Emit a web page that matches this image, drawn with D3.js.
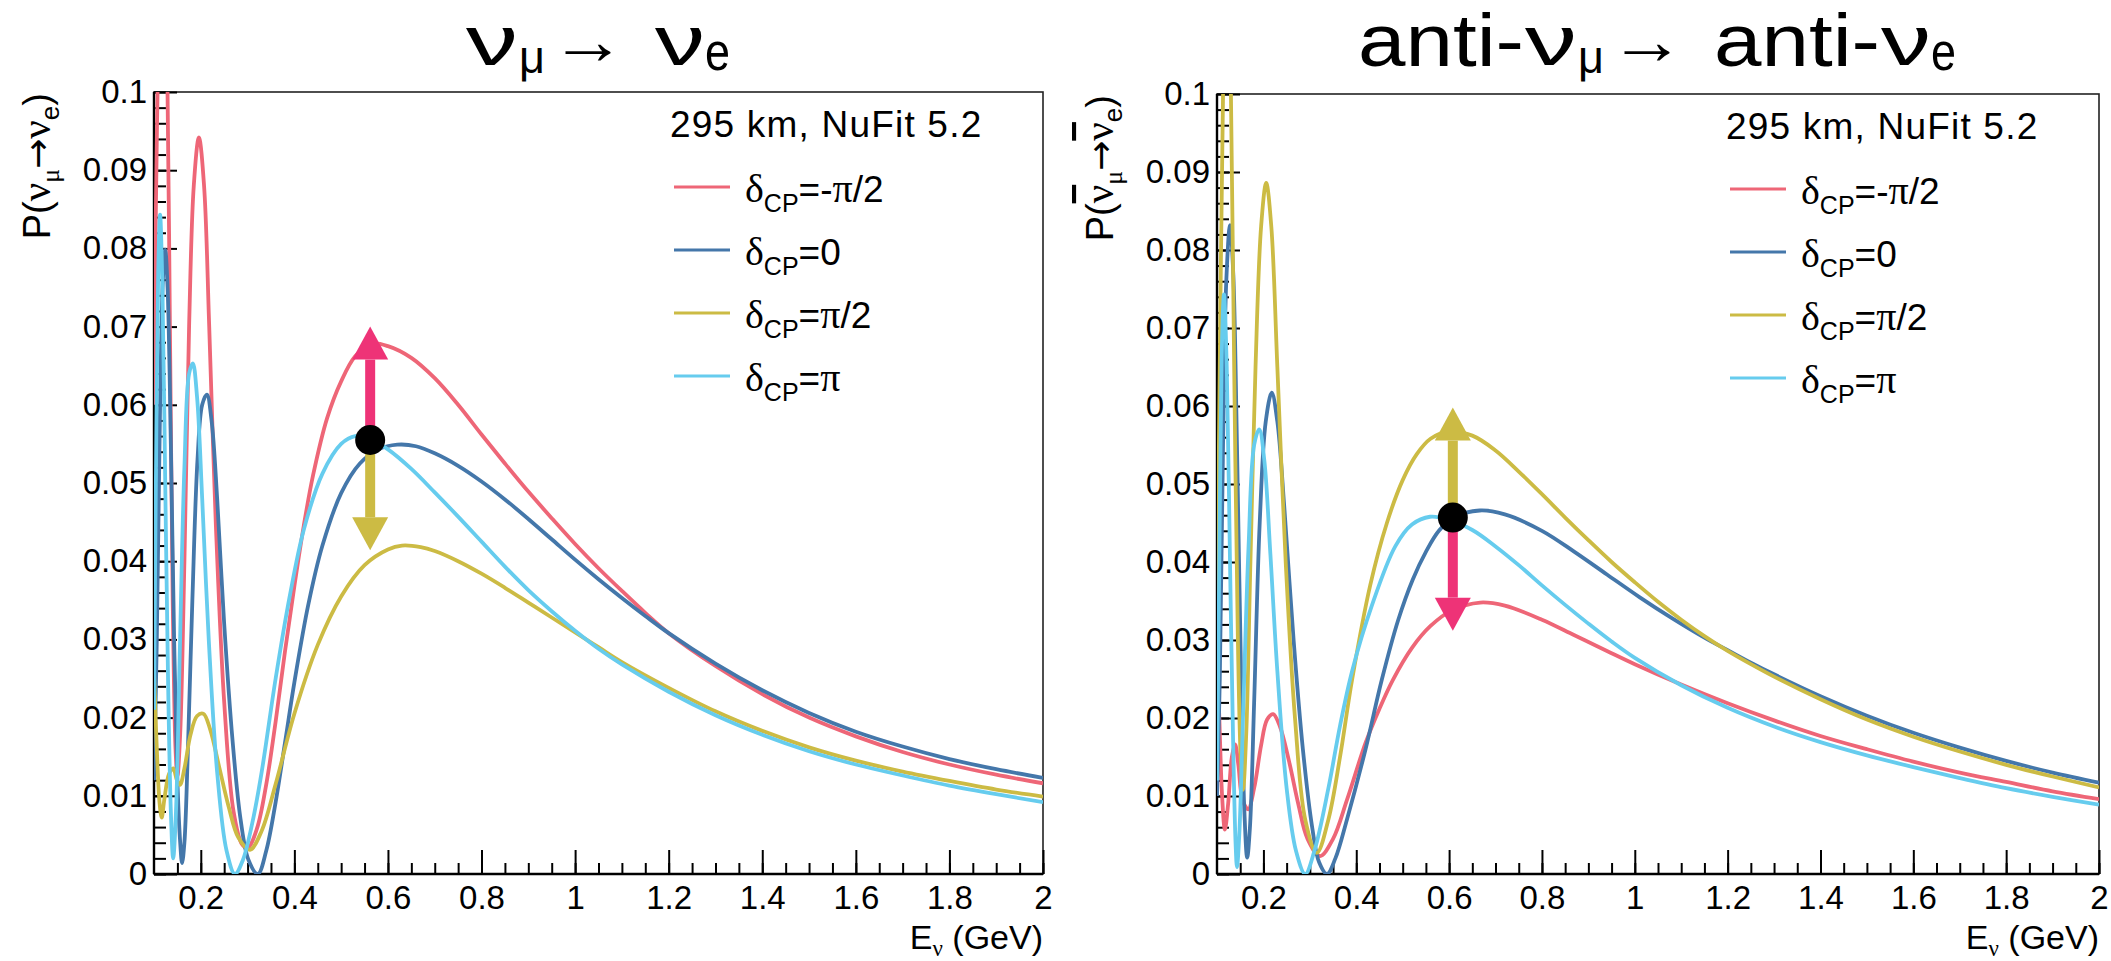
<!DOCTYPE html>
<html>
<head>
<meta charset="utf-8">
<script src="https://cdn.jsdelivr.net/npm/d3@7"></script>
<style>
  body { margin: 0; background: #fff; }
  svg { display: block; }
  text { font-family: "Liberation Sans", Arial, Helvetica, sans-serif; fill: #000; }
</style>
</head>
<body>
<script>
// ---- data (energy in GeV, probability) ----
var energyMajor = [0.2, 0.4, 0.6, 0.8, 1, 1.2, 1.4, 1.6, 1.8, 2];
var energyMinor = d3.range(0.15, 2.001, 0.05);
var probMajor = [0, 0.01, 0.02, 0.03, 0.04, 0.05, 0.06, 0.07, 0.08, 0.09, 0.1];
var probMinor = d3.range(0, 0.1001, 0.002);

var deltaLabels = ["=-π/2", "=0", "=π/2", "=π"];
var deltaColors = ["#EE6677", "#4477AA", "#CCBB44", "#66CCEE"];

// neutrino, 295 km
var nuMinusHalfPi = [[0.100,0.060],[0.104,0.085],[0.109,0.105],[0.118,0.130],[0.128,0.105],[0.134,0.070],[0.140,0.035],[0.146,0.016],[0.150,0.0125],[0.156,0.018],[0.165,0.040],[0.175,0.070],[0.185,0.088],[0.196,0.0942],[0.207,0.088],[0.218,0.070],[0.232,0.045],[0.250,0.022],[0.270,0.008],[0.288,0.0038],[0.300,0.0033],[0.320,0.0058],[0.340,0.0115],[0.360,0.0195],[0.380,0.0285],[0.400,0.0368],[0.420,0.0445],[0.440,0.0510],[0.470,0.0583],[0.500,0.0630],[0.530,0.0662],[0.565,0.0678],[0.600,0.0675],[0.650,0.0660],[0.700,0.0634],[0.750,0.0600],[0.800,0.0562],[0.850,0.0525],[0.900,0.0489],[0.950,0.0455],[1.000,0.0422],[1.050,0.0391],[1.100,0.0362],[1.150,0.0334],[1.200,0.0308],[1.300,0.0266],[1.400,0.0230],[1.500,0.0200],[1.600,0.0176],[1.700,0.0156],[1.800,0.0140],[1.900,0.0127],[2.000,0.0116]];
var nuZero = [[0.100,0.012],[0.106,0.030],[0.113,0.060],[0.119,0.076],[0.124,0.0798],[0.129,0.075],[0.136,0.055],[0.143,0.030],[0.150,0.012],[0.156,0.004],[0.160,0.0014],[0.165,0.004],[0.172,0.015],[0.182,0.035],[0.193,0.053],[0.203,0.060],[0.213,0.0613],[0.223,0.058],[0.235,0.048],[0.250,0.032],[0.268,0.017],[0.285,0.007],[0.302,0.0018],[0.322,0.0],[0.340,0.003],[0.360,0.0092],[0.380,0.0168],[0.400,0.0245],[0.430,0.0345],[0.460,0.0420],[0.500,0.0487],[0.540,0.0525],[0.580,0.0543],[0.620,0.0549],[0.660,0.0547],[0.700,0.0538],[0.750,0.0522],[0.800,0.0502],[0.850,0.0479],[0.900,0.0454],[0.950,0.0428],[1.000,0.0402],[1.050,0.0377],[1.100,0.0353],[1.150,0.0330],[1.200,0.0308],[1.300,0.0269],[1.400,0.0235],[1.500,0.0206],[1.600,0.0182],[1.700,0.0163],[1.800,0.0147],[1.900,0.0134],[2.000,0.0123]];
var nuHalfPi = [[0.100,0.026],[0.106,0.016],[0.112,0.009],[0.1165,0.0072],[0.122,0.0095],[0.132,0.0128],[0.141,0.0135],[0.149,0.0120],[0.1556,0.0114],[0.165,0.0135],[0.178,0.0178],[0.192,0.0202],[0.2054,0.0205],[0.220,0.0185],[0.240,0.0135],[0.260,0.0085],[0.280,0.0047],[0.305,0.0031],[0.330,0.0055],[0.360,0.0115],[0.400,0.0205],[0.450,0.0293],[0.500,0.0355],[0.550,0.0395],[0.600,0.0415],[0.630,0.0420],[0.670,0.0418],[0.700,0.0413],[0.750,0.0400],[0.800,0.0384],[0.850,0.0366],[0.900,0.0347],[0.950,0.0328],[1.000,0.0309],[1.050,0.0290],[1.100,0.0271],[1.200,0.0238],[1.300,0.0208],[1.400,0.0183],[1.500,0.0162],[1.600,0.0145],[1.700,0.0131],[1.800,0.0119],[1.900,0.0108],[2.000,0.0099]];
var nuPi = [[0.100,0.021],[0.104,0.050],[0.109,0.077],[0.113,0.0843],[0.118,0.075],[0.124,0.050],[0.130,0.025],[0.136,0.008],[0.141,0.002],[0.147,0.008],[0.155,0.028],[0.165,0.052],[0.175,0.064],[0.183,0.0653],[0.192,0.061],[0.203,0.048],[0.217,0.030],[0.235,0.013],[0.255,0.003],[0.273,0.0],[0.290,0.0018],[0.310,0.0065],[0.330,0.0130],[0.360,0.0250],[0.390,0.0355],[0.420,0.0440],[0.460,0.0512],[0.500,0.0550],[0.530,0.0560],[0.560,0.0557],[0.600,0.0543],[0.650,0.0518],[0.700,0.0488],[0.750,0.0457],[0.800,0.0425],[0.850,0.0393],[0.900,0.0363],[0.950,0.0336],[1.000,0.0311],[1.050,0.0288],[1.100,0.0268],[1.200,0.0233],[1.300,0.0203],[1.400,0.0178],[1.500,0.0157],[1.600,0.0140],[1.700,0.0126],[1.800,0.0113],[1.900,0.0102],[2.000,0.0092]];

// anti-neutrino, 295 km
var antiMinusHalfPi = [[0.100,0.029],[0.105,0.020],[0.111,0.010],[0.117,0.0057],[0.124,0.009],[0.132,0.015],[0.139,0.0166],[0.146,0.014],[0.155,0.0095],[0.167,0.0083],[0.180,0.011],[0.195,0.0165],[0.208,0.0198],[0.221,0.0205],[0.235,0.0190],[0.255,0.0145],[0.275,0.0090],[0.295,0.0045],[0.322,0.0023],[0.350,0.0045],[0.380,0.0095],[0.420,0.0168],[0.450,0.0212],[0.479,0.0249],[0.520,0.0290],[0.560,0.0318],[0.606,0.0338],[0.667,0.0348],[0.720,0.0344],[0.800,0.0326],[0.870,0.0306],[0.940,0.0286],[1.000,0.0269],[1.100,0.0243],[1.200,0.0219],[1.300,0.0197],[1.400,0.0177],[1.500,0.0160],[1.600,0.0144],[1.700,0.0130],[1.800,0.0118],[1.900,0.0106],[2.000,0.0096]];
var antiZero = [[0.100,0.010],[0.106,0.025],[0.113,0.055],[0.120,0.076],[0.128,0.0832],[0.135,0.077],[0.143,0.055],[0.152,0.025],[0.159,0.008],[0.165,0.0021],[0.171,0.006],[0.180,0.022],[0.192,0.045],[0.205,0.058],[0.218,0.0617],[0.230,0.058],[0.245,0.047],[0.265,0.030],[0.285,0.016],[0.305,0.006],[0.320,0.0015],[0.337,0.0],[0.355,0.002],[0.380,0.007],[0.420,0.016],[0.455,0.0249],[0.490,0.0325],[0.522,0.0378],[0.550,0.0413],[0.578,0.0440],[0.610,0.0457],[0.666,0.0466],[0.720,0.0461],[0.800,0.0440],[0.870,0.0413],[0.940,0.0384],[1.010,0.0355],[1.080,0.0328],[1.150,0.0303],[1.200,0.0287],[1.250,0.0271],[1.300,0.0256],[1.400,0.0228],[1.500,0.0203],[1.600,0.0181],[1.700,0.0162],[1.800,0.0145],[1.900,0.0130],[2.000,0.0117]];
var antiHalfPi = [[0.100,0.030],[0.105,0.060],[0.113,0.100],[0.121,0.125],[0.130,0.100],[0.137,0.065],[0.145,0.030],[0.151,0.015],[0.156,0.0108],[0.163,0.018],[0.172,0.040],[0.183,0.065],[0.195,0.083],[0.206,0.0886],[0.217,0.083],[0.230,0.065],[0.248,0.040],[0.268,0.020],[0.290,0.007],[0.315,0.0027],[0.340,0.007],[0.365,0.015],[0.391,0.0249],[0.430,0.0370],[0.466,0.0450],[0.500,0.0505],[0.530,0.0538],[0.560,0.0558],[0.600,0.0567],[0.650,0.0562],[0.700,0.0543],[0.750,0.0516],[0.800,0.0487],[0.850,0.0457],[0.900,0.0428],[0.950,0.0400],[1.000,0.0374],[1.050,0.0349],[1.100,0.0326],[1.150,0.0305],[1.200,0.0286],[1.250,0.0269],[1.300,0.0253],[1.400,0.0224],[1.500,0.0198],[1.600,0.0176],[1.700,0.0157],[1.800,0.0140],[1.900,0.0125],[2.000,0.0111]];
var antiPi = [[0.100,0.012],[0.105,0.040],[0.110,0.066],[0.115,0.0743],[0.121,0.065],[0.128,0.040],[0.135,0.016],[0.140,0.004],[0.143,0.0009],[0.148,0.005],[0.157,0.022],[0.168,0.042],[0.180,0.055],[0.191,0.0570],[0.202,0.053],[0.215,0.041],[0.230,0.026],[0.250,0.011],[0.270,0.003],[0.290,0.0],[0.310,0.003],[0.340,0.011],[0.365,0.019],[0.391,0.0260],[0.433,0.0343],[0.484,0.0420],[0.520,0.0448],[0.559,0.0458],[0.600,0.0454],[0.650,0.0441],[0.700,0.0420],[0.750,0.0396],[0.800,0.0370],[0.850,0.0345],[0.900,0.0321],[0.950,0.0298],[1.000,0.0277],[1.100,0.0242],[1.200,0.0213],[1.300,0.0189],[1.400,0.0169],[1.500,0.0152],[1.600,0.0137],[1.700,0.0123],[1.800,0.0110],[1.900,0.0099],[2.000,0.0089]];

// central point and arrows: [energy, dot, up-arrow tip, down-arrow tip]
var nuMarker = [0.562, 0.0555, 0.0700, 0.0414];
var antiMarker = [0.608, 0.0457, 0.0598, 0.0312];

// ---- layout ----
var svg = d3.select("body").append("svg").attr("width", 2111).attr("height", 961);

var panels = [
  { x0: 154, x1: 1043, y0: 92, y1: 874, title: "nu", titleX: 466,
    curves: [nuMinusHalfPi, nuZero, nuHalfPi, nuPi], marker: nuMarker,
    upColor: "#EE3377", downColor: "#CCBB44" },
  { x0: 1217, x1: 2099, y0: 94, y1: 874, title: "anti", titleX: 1358,
    curves: [antiMinusHalfPi, antiZero, antiHalfPi, antiPi], marker: antiMarker,
    upColor: "#CCBB44", downColor: "#EE3377" }
];

var fmt = function(d) { return d === 0 ? "0" : String(+d.toFixed(2)); };
var serif = "Liberation Serif, Times New Roman, serif";

panels.forEach(function(p, pi) {
  var x = d3.scaleLinear().domain([0.1, 2]).range([p.x0, p.x1]);
  var y = d3.scaleLinear().domain([0, 0.1]).range([p.y1, p.y0]);
  var g = svg.append("g");

  g.append("clipPath").attr("id", "clip" + pi)
    .append("rect").attr("x", p.x0).attr("y", p.y0)
    .attr("width", p.x1 - p.x0).attr("height", p.y1 - p.y0);

  // frame
  g.append("rect").attr("x", p.x0).attr("y", p.y0)
    .attr("width", p.x1 - p.x0).attr("height", p.y1 - p.y0)
    .attr("fill", "none").attr("stroke", "#222").attr("stroke-width", 1.6);

  // x axis
  var xMinor = g.append("g").attr("transform", "translate(0," + p.y1 + ")")
    .call(d3.axisBottom(x).tickValues(energyMinor).tickSize(-11).tickFormat(""));
  var xMajor = g.append("g").attr("transform", "translate(0," + p.y1 + ")")
    .call(d3.axisBottom(x).tickValues(energyMajor).tickSize(-24).tickPadding(12).tickFormat(fmt));
  // y axis
  var yMinor = g.append("g").attr("transform", "translate(" + p.x0 + ",0)")
    .call(d3.axisLeft(y).tickValues(probMinor).tickSize(-12).tickFormat(""));
  var yMajor = g.append("g").attr("transform", "translate(" + p.x0 + ",0)")
    .call(d3.axisLeft(y).tickValues(probMajor).tickSize(-23).tickPadding(7).tickFormat(fmt));

  [xMinor, xMajor, yMinor, yMajor].forEach(function(a) {
    a.select(".domain").remove();
    a.selectAll(".tick line").attr("stroke", "#000").attr("stroke-width", 2);
    a.selectAll("text").attr("font-size", 33).attr("font-family", "Liberation Sans, Arial, sans-serif").attr("fill", "#000");
  });
  g.append("line").attr("x1", p.x0).attr("x2", p.x1).attr("y1", p.y1).attr("y2", p.y1)
    .attr("stroke", "#000").attr("stroke-width", 2.4);
  g.append("line").attr("x1", p.x0).attr("x2", p.x0).attr("y1", p.y0).attr("y2", p.y1)
    .attr("stroke", "#000").attr("stroke-width", 2.4);

  // curves
  var line = d3.line().x(function(d) { return x(d[0]); }).y(function(d) { return y(d[1]); })
    .curve(d3.curveCatmullRom.alpha(0.5));
  g.append("g").attr("clip-path", "url(#clip" + pi + ")")
    .selectAll("path").data(p.curves).enter().append("path")
    .attr("d", line).attr("fill", "none")
    .attr("stroke", function(d, i) { return deltaColors[i]; })
    .attr("stroke-width", 3.8).attr("stroke-linejoin", "round");

  // arrows and central dot
  var m = p.marker, ax = x(m[0]), ay = y(m[1]);
  function arrow(tip, color) {
    var ty = y(tip), dir = ty < ay ? 1 : -1, base = ty + dir * 33;
    g.append("line").attr("x1", ax).attr("x2", ax).attr("y1", ay).attr("y2", base)
      .attr("stroke", color).attr("stroke-width", 10);
    g.append("path").attr("fill", color)
      .attr("d", "M" + ax + "," + ty + "L" + (ax - 18) + "," + base + "L" + (ax + 18) + "," + base + "Z");
  }
  arrow(m[2], p.upColor);
  arrow(m[3], p.downColor);
  g.append("circle").attr("cx", ax).attr("cy", ay).attr("r", 15).attr("fill", "#000");

  // legend
  var lx = p.x1 - 373, ly = p.y0;
  g.append("text").attr("x", lx).attr("y", ly + 45).attr("font-size", 37)
    .attr("letter-spacing", 1.2).text("295 km, NuFit 5.2");
  deltaLabels.forEach(function(lab, i) {
    var yy = ly + 95 + i * 63;
    g.append("line").attr("x1", lx + 4).attr("x2", lx + 60).attr("y1", yy).attr("y2", yy)
      .attr("stroke", deltaColors[i]).attr("stroke-width", 3);
    var t = g.append("text").attr("x", lx + 75).attr("y", yy + 15).attr("font-size", 37);
    t.append("tspan").attr("font-family", serif).attr("font-size", 40).text("δ");
    t.append("tspan").attr("font-size", 25).attr("dy", 10).text("CP");
    var parts = lab.split("π");
    t.append("tspan").attr("dy", -10).text(parts[0]);
    if (parts.length > 1) {
      t.append("tspan").attr("font-family", serif).attr("font-size", 40).text("π");
      t.append("tspan").text(parts[1]);
    }
  });

  // axis titles
  var xt = g.append("text").attr("x", p.x1).attr("y", 949).attr("text-anchor", "end").attr("font-size", 34);
  xt.append("tspan").text("E");
  xt.append("tspan").attr("font-size", 23).attr("dy", 7).attr("font-family", serif).text("ν");
  xt.append("tspan").attr("dy", -7).text(" (GeV)");

  var yt = g.append("text").attr("text-anchor", "end").attr("font-size", 38)
    .attr("transform", "translate(" + (p.x0 - 104) + "," + (p.y0 + 1) + ") rotate(-90)");
  yt.append("tspan").text("P(");
  var nu1 = yt.append("tspan").attr("font-family", serif).attr("font-size", 41).text("ν");
  yt.append("tspan").attr("font-size", 26).attr("dy", 9).attr("font-family", serif).text("μ");
  yt.append("tspan").attr("dy", -9).attr("font-family", "DejaVu Sans, sans-serif").attr("font-size", 36).text("→");
  var nu2 = yt.append("tspan").attr("font-family", serif).attr("font-size", 41).text("ν");
  yt.append("tspan").attr("font-size", 26).attr("dy", 9).text("e");
  yt.append("tspan").attr("dy", -9).text(")");
  if (p.title === "anti") {
    nu1.style("text-decoration", "overline");
    nu2.style("text-decoration", "overline");
  }

  // panel title, piece by piece (widths follow the reference lettering)
  var tg = svg.append("g").attr("font-family", "Lato, sans-serif");
  function piece(dx, baseline, size, txt, width, family) {
    var t = tg.append("text").attr("x", p.titleX + dx).attr("y", baseline)
      .attr("font-size", size).attr("textLength", width)
      .attr("lengthAdjust", "spacingAndGlyphs").text(txt);
    if (family) t.attr("font-family", family);
    return t;
  }
  var off = 0;
  if (p.title === "anti") { piece(0, 66, 74, "anti-", 166); off = 167; }
  piece(off, 65, 70, "ν", 52);
  piece(off + 53, 73, 46, "μ", 26);
  piece(off + 84, 64, 68, "→", 76, "DejaVu Sans, sans-serif");
  var off2 = off + 189;
  if (p.title === "anti") { piece(off2, 66, 74, "anti-", 166); off2 += 167; }
  piece(off2, 65, 70, "ν", 50);
  piece(off2 + 50, 70, 54, "e", 25);
});
</script>
</body>
</html>
